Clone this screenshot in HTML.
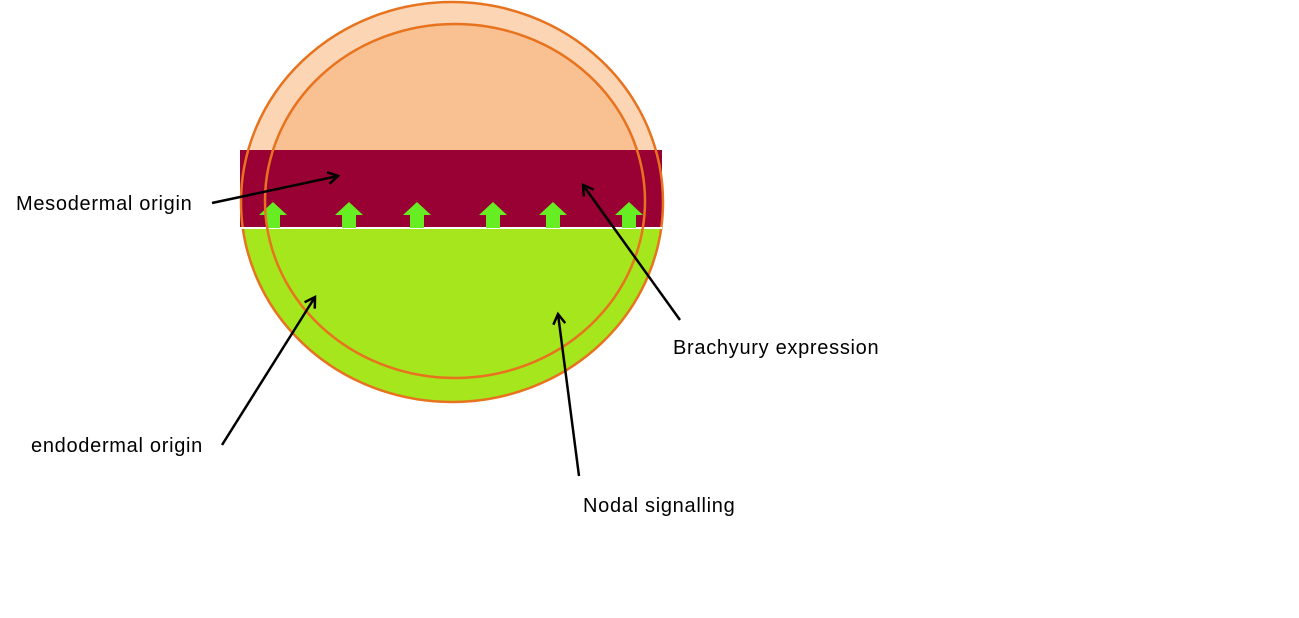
<!DOCTYPE html>
<html><head><style>
html,body{margin:0;padding:0;background:#fff;}
svg{display:block;}
text{font-family:"Liberation Sans",sans-serif;font-size:20px;letter-spacing:0.7px;fill:#000;}
</style></head><body>
<svg width="1299" height="618" viewBox="0 0 1299 618" xmlns="http://www.w3.org/2000/svg">
<defs>
<clipPath id="top"><rect x="0" y="0" width="1299" height="150"/></clipPath>
<clipPath id="bot"><rect x="0" y="228" width="1299" height="400"/></clipPath>
<marker id="ah" markerWidth="14" markerHeight="14" refX="11" refY="7" orient="auto" markerUnits="userSpaceOnUse">
<path d="M1,1 L11,7 L1,13" fill="none" stroke="#000" stroke-width="2.5"/></marker>
</defs>
<ellipse cx="452" cy="202" rx="211" ry="200" fill="#fcd5b5" clip-path="url(#top)"/>
<ellipse cx="455" cy="201" rx="190" ry="177" fill="#f9c092" clip-path="url(#top)"/>
<ellipse cx="452" cy="202" rx="211" ry="200" fill="#a5e61d" clip-path="url(#bot)"/>
<rect x="240" y="150" width="422" height="78" fill="#990033"/>
<ellipse cx="452" cy="202" rx="211" ry="200" fill="none" stroke="#e8731f" stroke-width="2.5"/>
<line x1="240" y1="228" x2="662" y2="228" stroke="#fff" stroke-width="2"/>
<g fill="#66ee22">
<path d="M259,215 L273,202 L287,215 L280,215 L280,228 L266,228 L266,215Z"/>
<path d="M335,215 L349,202 L363,215 L356,215 L356,228 L342,228 L342,215Z"/>
<path d="M403,215 L417,202 L431,215 L424,215 L424,228 L410,228 L410,215Z"/>
<path d="M479,215 L493,202 L507,215 L500,215 L500,228 L486,228 L486,215Z"/>
<path d="M539,215 L553,202 L567,215 L560,215 L560,228 L546,228 L546,215Z"/>
<path d="M615,215 L629,202 L643,215 L636,215 L636,228 L622,228 L622,215Z"/>
</g>
<ellipse cx="455" cy="201" rx="190" ry="177" fill="none" stroke="#e8731f" stroke-width="2.5"/>
<g stroke="#000" stroke-width="2.5" fill="none" marker-end="url(#ah)">
<line x1="212" y1="203" x2="338" y2="176"/>
<line x1="680" y1="320" x2="583" y2="185"/>
<line x1="222" y1="445" x2="315" y2="297"/>
<line x1="579" y1="476" x2="558" y2="314"/>
</g>
<text x="16" y="210">Mesodermal origin</text>
<text x="673" y="354">Brachyury expression</text>
<text x="31" y="452">endodermal origin</text>
<text x="583" y="512">Nodal signalling</text>
</svg>
</body></html>
